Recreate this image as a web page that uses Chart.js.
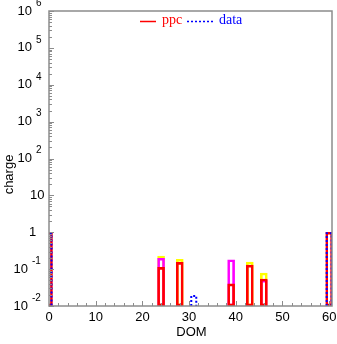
<!DOCTYPE html>
<html>
<head>
<meta charset="utf-8">
<script src="https://cdn.jsdelivr.net/npm/chart.js@4"></script>
<style>
    html, body { margin: 0; padding: 0; background: #fff; }
</style>
</head>
<body>
<canvas id="chargeChart" width="337" height="344"></canvas>
<script>
// DOM bins and charge values
const domBins    = [0, 24, 28, 31, 39, 43, 46, 60];
const ppcCharge  = [1, 0.112, 0.153, null, 0.04, 0.129, 0.054, 1];
const ppcBand2   = [null, 0.197, null, null, 0.18, null, 0.05, null];
const ppcBand1   = [null, 0.227, 0.185, null, null, 0.156, 0.0785, null];
const dataCharge = [1, null, null, 0.02, null, null, null, 1];
const xTicks = [0, 10, 20, 30, 40, 50, 60];
const yDecades = [-2, -1, 0, 1, 2, 3, 4, 5, 6];

const AXIS = '#8c8c8c';

// turn a series into {x, y} points, skipping empty bins
function toPoints(values) {
    const pts = [];
    values.forEach((v, i) => {
        if (v !== null) pts.push({ x: domBins[i], y: v });
    });
    return pts;
}

function barSet(label, values, color) {
    return {
        label: label,
        data: toPoints(values),
        backgroundColor: 'rgba(0,0,0,0)',
        borderColor: color,
        borderWidth: 2,
        borderSkipped: false,
        barThickness: 7,
        grouped: false,
        clip: 0
    };
}

// frame, ticks, labels and legend
const axesPlugin = {
    id: 'axesPlugin',
    afterDatasetsDraw(chart) {
        const ctx = chart.ctx;
        const a = chart.chartArea;

        // data series: dotted blue outlines on top of the ppc bars
        const meta = chart.getDatasetMeta(0);
        ctx.save();
        ctx.beginPath();
        ctx.rect(a.left, a.top, a.right - a.left, a.bottom - a.top);
        ctx.clip();
        ctx.strokeStyle = '#0000ff';
        ctx.lineWidth = 2;
        ctx.setLineDash([2, 2]);
        meta.data.forEach(el => {
            const l = el.x - el.width / 2 + 1;
            const r = el.x + el.width / 2 - 1;
            ctx.beginPath();
            ctx.moveTo(l, el.base);
            ctx.lineTo(l, el.y + 1);
            ctx.lineTo(r, el.y + 1);
            ctx.lineTo(r, el.base);
            ctx.stroke();
        });
        ctx.restore();
    },
    afterDraw(chart) {
        const ctx = chart.ctx;
        const a = chart.chartArea;
        const xs = chart.scales.x;
        const ys = chart.scales.y;
        ctx.save();

        // box
        ctx.strokeStyle = AXIS;
        ctx.lineWidth = 1.5;
        ctx.strokeRect(a.left, a.top, a.right - a.left, a.bottom - a.top);

        // y ticks (log, inward)
        ctx.lineWidth = 1;
        ctx.beginPath();
        yDecades.forEach(k => {
            const y = Math.round(ys.getPixelForValue(Math.pow(10, k))) + 0.5;
            ctx.moveTo(a.left, y);
            ctx.lineTo(a.left + 5, y);
            if (k < 6) {
                for (let m = 2; m <= 9; m++) {
                    const ym = Math.round(ys.getPixelForValue(m * Math.pow(10, k))) + 0.5;
                    ctx.moveTo(a.left, ym);
                    ctx.lineTo(a.left + 3, ym);
                }
            }
        });
        // x ticks
        for (let v = 2; v <= 60; v += 2) {
            const x = Math.round(xs.getPixelForValue(v)) + 0.5;
            const len = v % 10 === 0 ? 5 : 3;
            ctx.moveTo(x, a.bottom);
            ctx.lineTo(x, a.bottom - len);
        }
        ctx.stroke();

        // x tick labels
        ctx.fillStyle = '#000';
        ctx.font = '13px "Liberation Sans", Arial, sans-serif';
        ctx.textAlign = 'center';
        ctx.textBaseline = 'middle';
        xTicks.forEach(v => {
            ctx.fillText(String(v), xs.getPixelForValue(v), a.bottom + 11);
        });
        ctx.fillText('DOM', (a.left + a.right) / 2 + 1, a.bottom + 26);

        // y tick labels: 10 with superscript exponent
        yDecades.forEach(k => {
            const y = ys.getPixelForValue(Math.pow(10, k));
            ctx.font = '13px "Liberation Sans", Arial, sans-serif';
            ctx.textBaseline = 'middle';
            if (k === 0) {
                ctx.textAlign = 'left';
                ctx.fillText('1', 29, y);
                return;
            }
            if (k === 1) {
                ctx.textAlign = 'left';
                ctx.fillText('10', 30, y);
                return;
            }
            const baseRight = k < 0 ? 28 : 32;
            ctx.textAlign = 'right';
            ctx.fillText('10', baseRight, y);
            ctx.font = '10px "Liberation Sans", Arial, sans-serif';
            ctx.textAlign = 'left';
            ctx.fillText(String(k), baseRight + 4, y - 8);
        });

        // y title
        ctx.save();
        ctx.translate(9, (a.top + a.bottom) / 2 + 16);
        ctx.rotate(-Math.PI / 2);
        ctx.font = '13px "Liberation Sans", Arial, sans-serif';
        ctx.textAlign = 'center';
        ctx.textBaseline = 'middle';
        ctx.fillText('charge', 0, 0);
        ctx.restore();

        // legend
        const ly = 21.5;
        ctx.lineWidth = 1.5;
        ctx.strokeStyle = '#ff0000';
        ctx.beginPath();
        ctx.moveTo(140, ly);
        ctx.lineTo(156, ly);
        ctx.stroke();
        ctx.strokeStyle = '#0000ff';
        ctx.setLineDash([2, 2]);
        ctx.beginPath();
        ctx.moveTo(187, ly);
        ctx.lineTo(213, ly);
        ctx.stroke();
        ctx.setLineDash([]);
        ctx.font = '14px "Liberation Serif", "Times New Roman", serif';
        ctx.textAlign = 'left';
        ctx.textBaseline = 'middle';
        ctx.fillStyle = '#ff0000';
        ctx.fillText('ppc', 162, ly - 1);
        ctx.fillStyle = '#0000ff';
        ctx.fillText('data', 219, ly - 1);

        ctx.restore();
    }
};

// Chart.js draws the first dataset on top, so data comes first and band1 last
const chargeChart = new Chart(document.getElementById('chargeChart').getContext('2d'), {
    type: 'bar',
    data: {
        datasets: [
            barSet('data', dataCharge, 'rgba(0,0,0,0)'),
            barSet('ppc', ppcCharge, '#ff0000'),
            barSet('band2', ppcBand2, '#ff00ff'),
            barSet('band1', ppcBand1, '#ffff00')
        ]
    },
    options: {
        responsive: false,
        animation: false,
        devicePixelRatio: 1,
        layout: { padding: { left: 49, top: 11, right: 5, bottom: 38 } },
        plugins: {
            legend: { display: false },
            tooltip: { enabled: false }
        },
        scales: {
            x: { type: 'linear', display: false, offset: false, min: 0, max: 60.6 },
            y: { type: 'logarithmic', display: false, min: 0.01, max: 1e6 }
        }
    },
    plugins: [axesPlugin]
});
</script>
</body>
</html>
